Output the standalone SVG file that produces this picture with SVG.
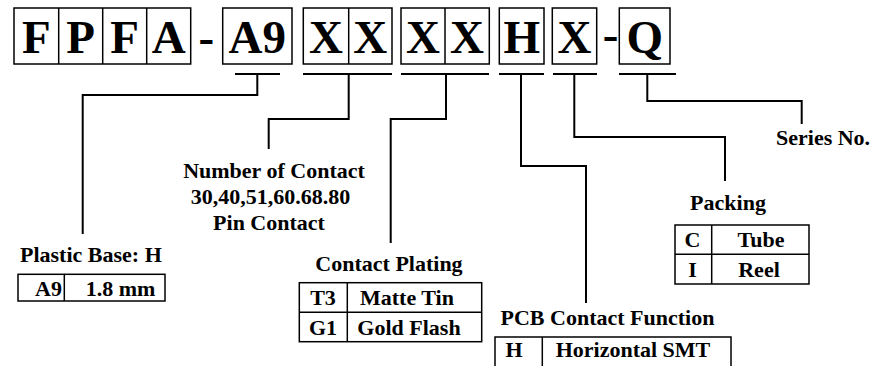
<svg xmlns="http://www.w3.org/2000/svg" width="888" height="366" viewBox="0 0 888 366">
<style>
  .bg { fill: #ffffff; }
  .box { fill: none; stroke: #000; stroke-width: 1.5; }
  .line { fill: none; stroke: #000; stroke-width: 2; }
  .big { font-weight: bold; font-size: 47px; fill: #000; text-anchor: middle; }
  .lbl { font-weight: bold; font-size: 22px; fill: #000; }
  .mid { text-anchor: middle; }
</style>
<rect class="bg" x="0" y="0" width="888" height="366"/>

<g font-family="'Liberation Serif', 'Times New Roman', Tinos, 'DejaVu Serif', serif">
<g id="code">
  <rect class="box" x="14" y="8" width="176.7" height="56"/>
  <line class="box" x1="58.7" y1="8" x2="58.7" y2="64"/>
  <line class="box" x1="102.7" y1="8" x2="102.7" y2="64"/>
  <line class="box" x1="146.7" y1="8" x2="146.7" y2="64"/>
  <text class="big" x="36.3" y="53">F</text>
  <text class="big" x="80.7" y="53">P</text>
  <text class="big" x="124.7" y="53">F</text>
  <text class="big" x="168.7" y="53">A</text>
  <text class="big" x="206.3" y="53">-</text>
  <rect class="box" x="222.7" y="8" width="69.3" height="56"/>
  <text class="big" x="257.3" y="53">A9</text>
  <rect class="box" x="303.3" y="8" width="88.7" height="56"/>
  <line class="box" x1="348.7" y1="8" x2="348.7" y2="64"/>
  <text class="big" x="326" y="53">X</text>
  <text class="big" x="370.3" y="53">X</text>
  <rect class="box" x="401" y="8" width="88.3" height="56"/>
  <line class="box" x1="445" y1="8" x2="445" y2="64"/>
  <text class="big" x="423" y="53">X</text>
  <text class="big" x="467" y="53">X</text>
  <rect class="box" x="499.3" y="8" width="44.7" height="56"/>
  <text class="big" x="521.7" y="53">H</text>
  <rect class="box" x="552.3" y="8" width="44.4" height="56"/>
  <text class="big" x="574.5" y="53">X</text>
  <text class="big" x="610.5" y="50">-</text>
  <rect class="box" x="619.3" y="8" width="50.7" height="56"/>
  <text class="big" x="644.7" y="53">Q</text>
</g>

<g id="connectors">
  <line class="line" x1="235" y1="74" x2="280" y2="74"/>
  <line class="line" x1="303" y1="74" x2="392" y2="74"/>
  <line class="line" x1="401" y1="74" x2="489" y2="74"/>
  <line class="line" x1="499" y1="74" x2="544" y2="74"/>
  <line class="line" x1="553" y1="74" x2="597" y2="74"/>
  <line class="line" x1="619" y1="74" x2="676" y2="74"/>
  <path class="line" d="M257.3 74 V95 H82.7 V234"/>
  <path class="line" d="M348.7 74 V119 H268.7 V149"/>
  <path class="line" d="M446 74 V119 H390.7 V243"/>
  <path class="line" d="M521 74 V166 H586 V303"/>
  <path class="line" d="M574.3 74 V137 H725 V181"/>
  <path class="line" d="M647.3 74 V101 H801.7 V124"/>
</g>

<g id="series">
  <text class="lbl" x="776" y="145">Series No.</text>
</g>

<g id="number-of-contact">
  <text class="lbl mid" x="274" y="178">Number of Contact</text>
  <text class="lbl mid" x="270.5" y="204">30,40,51,60.68.80</text>
  <text class="lbl mid" x="269" y="230">Pin Contact</text>
</g>

<g id="plastic-base">
  <text class="lbl" x="20" y="262">Plastic Base: H</text>
  <rect class="box" x="18" y="274.3" width="147" height="26.7"/>
  <line class="box" x1="64.3" y1="274.3" x2="64.3" y2="301"/>
  <text class="lbl" x="62" y="295.5" text-anchor="end">A9</text>
  <text class="lbl mid" x="120.5" y="295.5">1.8 mm</text>
</g>

<g id="contact-plating">
  <text class="lbl mid" x="389" y="270.7">Contact Plating</text>
  <rect class="box" x="299.3" y="282.7" width="182.4" height="59"/>
  <line class="box" x1="299.3" y1="312.3" x2="481.7" y2="312.3"/>
  <line class="box" x1="347.3" y1="282.7" x2="347.3" y2="341.7"/>
  <text class="lbl mid" x="323" y="305">T3</text>
  <text class="lbl mid" x="407" y="305">Matte Tin</text>
  <text class="lbl mid" x="323" y="334.5">G1</text>
  <text class="lbl mid" x="409" y="334.5">Gold Flash</text>
</g>

<g id="pcb-contact-function">
  <text class="lbl mid" x="607.5" y="325">PCB Contact Function</text>
  <rect class="box" x="495" y="337" width="236" height="30"/>
  <line class="box" x1="542.3" y1="337" x2="542.3" y2="366"/>
  <text class="lbl mid" x="514" y="357">H</text>
  <text class="lbl mid" x="633" y="357">Horizontal SMT</text>
</g>

<g id="packing">
  <text class="lbl mid" x="728" y="210">Packing</text>
  <rect class="box" x="675" y="225" width="134" height="59"/>
  <line class="box" x1="675" y1="254.3" x2="809" y2="254.3"/>
  <line class="box" x1="711.7" y1="225" x2="711.7" y2="284"/>
  <text class="lbl mid" x="692.5" y="247">C</text>
  <text class="lbl mid" x="761" y="247">Tube</text>
  <text class="lbl mid" x="692.5" y="277">I</text>
  <text class="lbl mid" x="759" y="277">Reel</text>
</g>
</g>
</svg>
